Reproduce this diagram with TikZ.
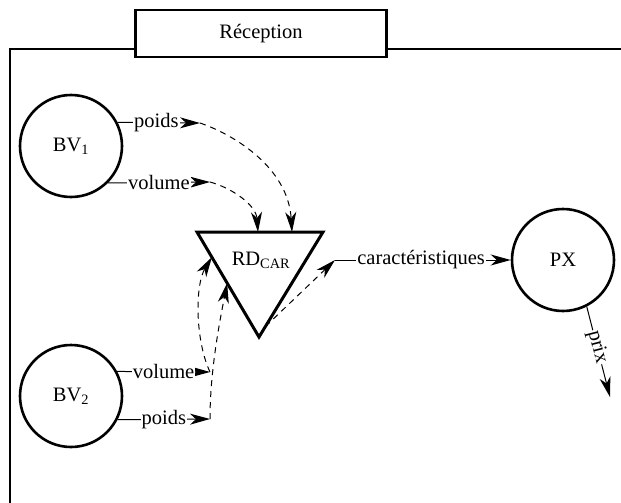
\documentclass[tikz,border=0pt]{standalone}
\usepackage{fontspec}
\setmainfont{Liberation Serif}
\usetikzlibrary{arrows.meta,calc}
\begin{document}
\begin{tikzpicture}[x=1pt,y=1pt,
  font=\fontsize{20.5}{24}\selectfont,
  proc/.style={circle,draw,line width=2.6pt,minimum size=102pt,inner sep=0pt},
  flow/.style={line width=1pt,-{Stealth[length=20pt,width=11pt,inset=6pt]}},
  dflow/.style={flow,dash pattern=on 6pt off 5pt},
  lbl/.style={fill=white,inner sep=1pt},
  thick border/.style={line width=2.5pt}
]
\useasboundingbox (0,0) rectangle (621,-503);
% frame
\draw[thick border] (10,-503) -- (10,-49) -- (625,-49);
\node[draw,fill=white,thick border,minimum width=251pt,minimum height=47pt,inner sep=0pt] (rec) at (261,-33.5) {Réception};
% processes
\node[proc] (BV1) at (71,-146) {BV\textsubscript{1}};
\node[proc] (BV2) at (71,-396) {BV\textsubscript{2}};
\node[proc] (PX) at (563,-260) {PX};
% triangle
\coordinate (tl) at (197,-232);
\coordinate (tr) at (323,-232);
\coordinate (ap) at (259,-337);
\draw[line width=3pt,line join=miter] (tl) -- (tr) -- (ap) -- cycle;
\node[anchor=base] (RD) at (261,-265) {RD\textsubscript{CAR}};
% end points
\coordinate (p1) at (200,-123);
\coordinate (v1) at (210,-182);
\coordinate (v2) at (210,-372);
\coordinate (p2) at (210,-419);
\coordinate (c1) at (335,-260);
\coordinate (pe) at (610,-397);
% BV1 flows
\draw[flow] (BV1.27) -- node[lbl,pos=0.47]{poids} (p1);
\draw[flow] (BV1.-45) -- node[lbl,pos=0.5]{volume} (v1);
\draw[dflow] (p1) .. controls (235,-135) and (288,-168) .. ($(tl)!0.754!(tr)$);
\draw[dflow] (v1) .. controls (232,-188) and (256,-205) .. ($(tl)!0.484!(tr)$);
% BV2 flows
\draw[flow] (BV2.28) -- node[lbl,pos=0.5]{volume} (v2);
\draw[flow] (BV2.-27) -- node[lbl,pos=0.5]{poids} (p2);
\draw[dflow] (v2) .. controls (195,-340) and (195,-285) .. ($(tl)!0.24!(ap)$);
\draw[dflow] (p2) .. controls (210,-370) and (220,-320) .. ($(tl)!0.486!(ap)$);
% output
\draw[dflow] ($(tr)!0.9!(ap)$) -- (c1);
\draw[flow] (c1) -- node[lbl,pos=0.49]{caractéristiques} (PX);
\draw[flow] (PX.-63) -- node[lbl,sloped,pos=0.45]{prix} (pe);
\end{tikzpicture}
\end{document}
